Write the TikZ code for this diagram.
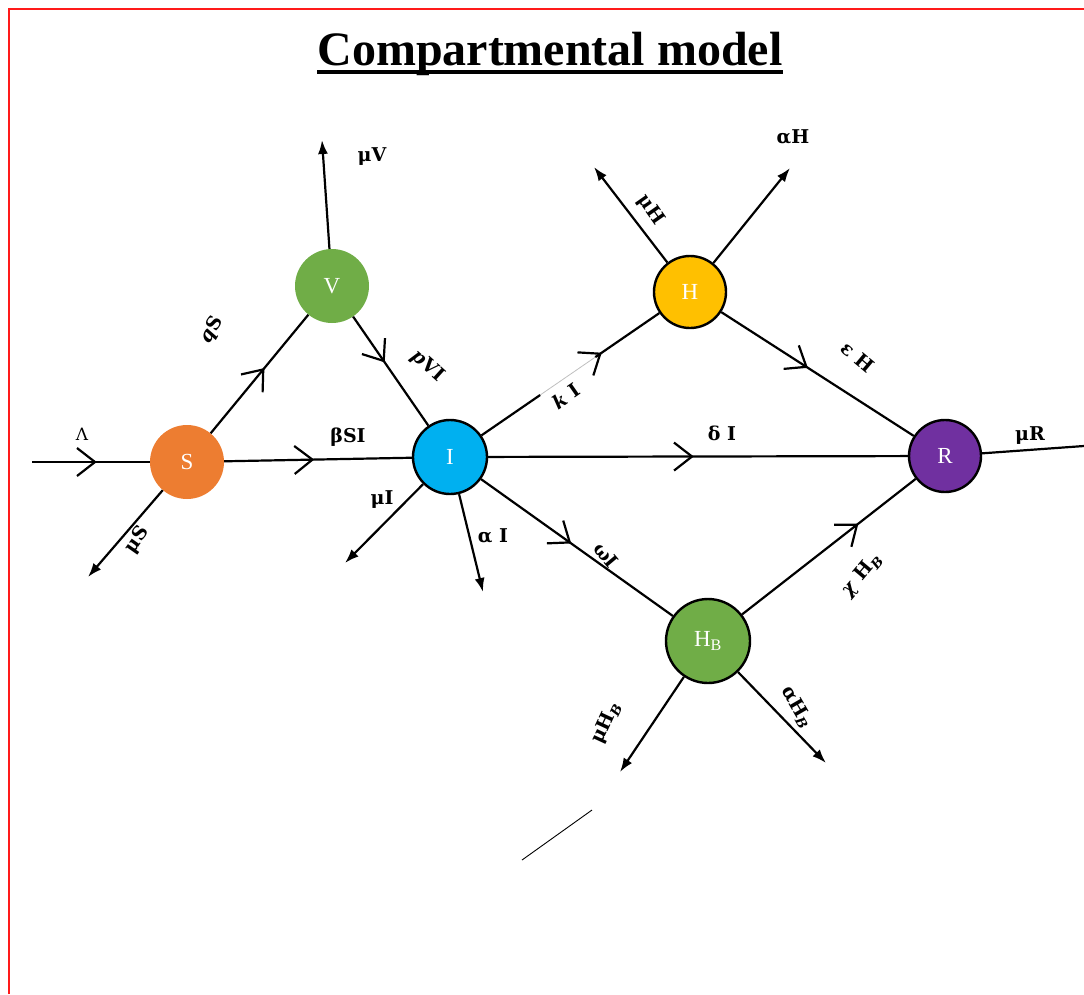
\documentclass[tikz,border=0pt]{standalone}
\usepackage{fontspec}
\setmainfont{Liberation Serif}
\newfontfamily\labfont{DejaVu Serif}
\usetikzlibrary{arrows.meta,decorations.markings}
\definecolor{cS}{HTML}{ED7D31}
\definecolor{cV}{HTML}{70AD47}
\definecolor{cI}{HTML}{00B0F0}
\definecolor{cH}{HTML}{FFC000}
\definecolor{cR}{HTML}{7030A0}
\definecolor{cHB}{HTML}{70AD47}
\definecolor{frame}{HTML}{FF1A1A}
\begin{document}
\begin{tikzpicture}[x=1pt,y=-1pt,
  comp/.style={circle,minimum size=74pt,inner sep=0pt,text=white,
    font=\fontsize{23}{23}\selectfont},
  bcomp/.style={comp,draw=black,line width=2.4pt},
  flow/.style={line width=2.2pt},
  outarrow/.style={line width=2.2pt,-{Latex[length=14pt,width=10pt]}},
  lab/.style={font=\labfont\fontsize{19}{19}\selectfont\bfseries,inner sep=0pt},
  chev/.style={postaction={decorate,decoration={markings,
    mark=at position #1 with {\arrow{Straight Barb[length=18pt,width=28pt]}}}}}
]
\useasboundingbox (0,0) rectangle (1084,994);
% frame
\draw[frame,line width=2pt] (9,994) -- (9,9) -- (1084,9);
% title
\node[font=\fontsize{48}{48}\selectfont\bfseries,inner sep=0pt,anchor=base] (title) at (550,65) {Compartmental model};
\draw[line width=3.5pt] ([yshift=-7pt]title.base west) -- ([yshift=-7pt]title.base east);

% compartments
\node[comp,fill=cS] (S) at (187,462) {S};
\node[comp,fill=cV] (V) at (332,286) {V};
\node[bcomp,fill=cI] (I) at (450,457) {I};
\node[bcomp,fill=cH,minimum size=72pt] (H) at (690,292) {H};
\node[bcomp,fill=cR,minimum size=72pt] (R) at (945,456) {R};
\node[bcomp,fill=cHB,minimum size=84pt] (HB) at (708,641) {H\textsubscript{B}};

% free ends
\coordinate (lamIn) at (32,462);
\coordinate (muV) at (322,140);
\coordinate (muS) at (88,577);
\coordinate (muI) at (345,563);
\coordinate (alI) at (483,592);
\coordinate (muH) at (594,167);
\coordinate (alH) at (790,168);
\coordinate (muHB) at (620,772);
\coordinate (alHB) at (826,763);
\coordinate (muR) at (1084,446);
\coordinate (strayA) at (522,860);
\coordinate (strayB) at (592,810);

% flows with chevrons
\draw[flow,chev=0.55] (lamIn) -- (S);
\draw[flow,chev=0.55] (S) -- (V);
\draw[flow,chev=0.42] (V) -- (I);
\draw[flow,chev=0.48] (S) -- (I);
\draw[flow,chev=0.49] (I) -- (R);
\draw[flow,chev=0.45] (H) -- (R);
\draw[flow,chev=0.47] (I) -- (HB);
\draw[flow,chev=0.67] (HB) -- (R);
% I -> H with faded segment
\path (I) -- (H) coordinate[pos=0.33] (kA) coordinate[pos=0.64] (kB);
\draw[flow] (I) -- (kA);
\draw[line width=0.8pt,black!25] (kA) -- (kB);
\draw[flow,chev=0.1] (kB) -- (H);

% outflows
\draw[outarrow] (V) -- (muV);
\draw[outarrow] (S) -- (muS);
\draw[outarrow] (I) -- (muI);
\draw[outarrow] (I) -- (alI);
\draw[outarrow] (H) -- (muH);
\draw[outarrow] (H) -- (alH);
\draw[outarrow] (HB) -- (muHB);
\draw[outarrow] (HB) -- (alHB);
\draw[flow] (R) -- (muR);
\draw[line width=0.9pt] (strayA) -- (strayB);

% labels
\node[lab,font=\labfont\fontsize{17}{17}\selectfont] (lLam) at (82,434) {Λ};
\node[lab,rotate=60] (lqS) at (212,330) {\textit{q}S};
\node[lab,rotate=-42] (lpVI) at (428,366) {\textit{p}VI};
\node[lab] (lbSI) at (348,437) {βSI};
\node[lab,rotate=55] (lmS) at (137,540) {μS};
\node[lab] (lmV) at (372,157) {μV};
\node[lab] (lmI) at (382,500) {μI};
\node[lab] (laI) at (493,536) {α I};
\node[lab,rotate=-50] (lwI) at (606,555) {ωI};
\node[lab,rotate=35] (lkI) at (566,396) {\textit{k} I};
\node[lab] (ldI) at (722,433) {δ I};
\node[lab,rotate=-40] (leH) at (858,357) {ε H};
\node[lab,rotate=-55] (lmH) at (651,210) {μH};
\node[lab] (laH) at (793,137) {αH};
\node[lab,rotate=50] (lcHB) at (862,575) {\textit{χ} H\textsubscript{\textit{B}}};
\node[lab,rotate=65] (lmHB) at (606,723) {μH\textsubscript{\textit{B}}};
\node[lab,rotate=-60] (laHB) at (797,707) {αH\textsubscript{\textit{B}}};
\node[lab] (lmR) at (1030,436) {μR};
\end{tikzpicture}
\end{document}
